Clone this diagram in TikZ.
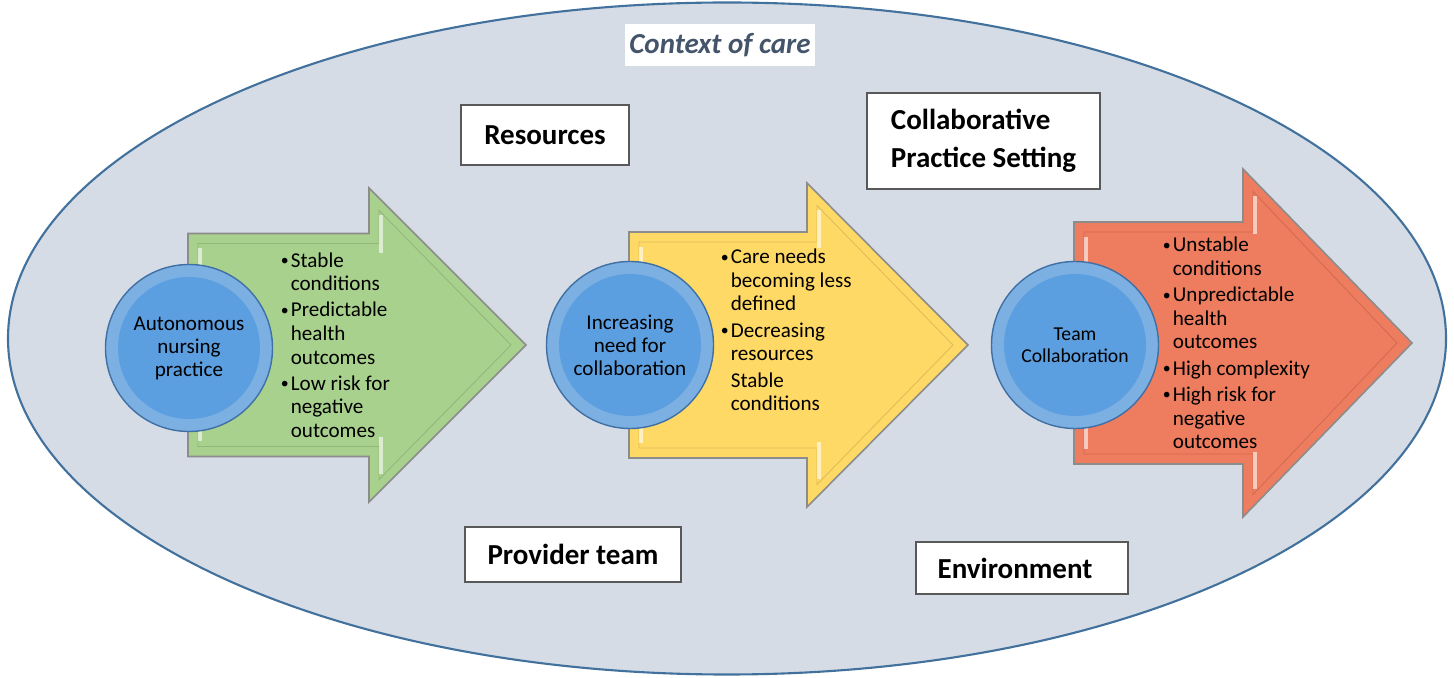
\documentclass[tikz,border=0pt]{standalone}
\usepackage{fontspec}
\setmainfont{Carlito}
\usepackage{tikz}
\usetikzlibrary{shapes.geometric}

\definecolor{ctxfill}{RGB}{214,220,229}
\definecolor{ctxedge}{RGB}{65,113,156}
\definecolor{ctxtext}{RGB}{68,84,106}
\definecolor{arrgreen}{RGB}{169,209,142}
\definecolor{arryellow}{RGB}{255,217,102}
\definecolor{arrred}{RGB}{238,124,94}
\definecolor{hubring}{RGB}{125,176,226}
\definecolor{hubcore}{RGB}{92,159,224}
\definecolor{hubedge}{RGB}{63,112,165}

\tikzstyle{arrowbody} = [draw=black!45, line width=0.9pt, line join=miter]
\tikzstyle{glint} = [white, line width=2pt, opacity=0.6]
\tikzstyle{hub} = [circle, minimum size=3.34cm, inner sep=0pt, fill=hubring, draw=hubedge, line width=0.8pt, align=center, font=\fontsize{12}{13.1}\selectfont, path picture={\fill[hubcore] (path picture bounding box.center) circle (1.42cm);}]
\tikzstyle{bullets} = [anchor=west, inner sep=0pt, align=left, font=\fontsize{12}{13.4}\selectfont]
\tikzstyle{tagbox} = [draw=black!65, fill=white, line width=1pt, inner sep=2pt, font=\fontsize{16.5}{21.6}\selectfont\bfseries]
\tikzstyle{ctxtitle} = [fill=white, inner sep=0pt, minimum width=3.8cm, minimum height=0.84cm, text=ctxtext, font=\fontsize{16.5}{20}\selectfont\bfseries\itshape]

\newcommand{\itembul}{\makebox[5.7pt][l]{\raisebox{0.9pt}{\fontsize{9}{9}\selectfont\textbullet}}}
\newcommand{\itemcont}{\hspace*{5.7pt}}

\begin{document}
\begin{tikzpicture}
\useasboundingbox (0,0) rectangle (29.08,13.54);

% context of care
\draw[fill=ctxfill, draw=ctxedge, line width=1.2pt] (14.54,6.77) ellipse (14.38cm and 6.72cm);
\node[ctxtitle] (ctx) at (14.40,12.64) {Context of care};

% the three arrows
\foreach \xl/\xh/\xt/\yc/\bh/\hh/\col in {3.76/7.38/10.52/6.64/2.23/3.14/arrgreen, 12.58/16.14/19.36/6.64/2.26/3.24/arryellow, 21.48/24.86/28.24/6.68/2.42/3.48/arrred}
{
\draw[arrowbody, fill=\col] (\xl,\yc+\bh) -- (\xh,\yc+\bh) -- (\xh,\yc+\hh) -- (\xt,\yc) -- (\xh,\yc-\hh) -- (\xh,\yc-\bh) -- (\xl,\yc-\bh) -- cycle;
\draw[draw=\col!75!black, line width=0.5pt, opacity=0.5] (\xl+0.2,\yc+\bh-0.2) -- (\xh+0.2,\yc+\bh-0.2) -- (\xh+0.2,\yc+\hh-0.45) -- (\xt-0.3,\yc) -- (\xh+0.2,\yc-\hh+0.45) -- (\xh+0.2,\yc-\bh+0.2) -- (\xl+0.2,\yc-\bh+0.2) -- cycle;
\draw[glint] (\xl+0.24,\yc+\bh-0.3) -- ++(0,-0.55);
\draw[glint] (\xl+0.24,\yc-\bh+0.3) -- ++(0,0.55);
\draw[glint] (\xh+0.24,\yc+\hh-0.55) -- ++(0,-0.75);
\draw[glint] (\xh+0.24,\yc-\hh+0.55) -- ++(0,0.75);
}

% circles
\node[hub] (auto) at (3.78,6.58) {Autonomous\\nursing\\practice};
\node[hub] (incr) at (12.60,6.64) {Increasing\\need for\\collaboration};
\node[hub, font=\fontsize{11.2}{12.5}\selectfont] (team) at (21.50,6.64) {Team\\Collaboration};

% bullet lists
\node[bullets] (stable) at (5.61,6.64) {\itembul Stable\\ \itemcont conditions\\[1.6pt] \itembul Predictable\\ \itemcont health\\ \itemcont outcomes\\[1.6pt] \itembul Low risk for\\ \itemcont negative\\ \itemcont outcomes};
\node[bullets] (needs) at (14.41,6.94) {\itembul Care needs\\ \itemcont becoming less\\ \itemcont defined\\[1.6pt] \itembul Decreasing\\ \itemcont resources\\[1.6pt] \itemcont Stable\\ \itemcont conditions};
\node[bullets] (unstable) at (23.25,6.68) {\itembul Unstable\\ \itemcont conditions\\[1.6pt] \itembul Unpredictable\\ \itemcont health\\ \itemcont outcomes\\[1.6pt] \itembul High complexity\\[1.6pt] \itembul High risk for\\ \itemcont negative\\ \itemcont outcomes};

% labels
\node[tagbox, minimum width=3.36cm, minimum height=1.2cm] (res) at (10.90,10.84) {Resources};
\node[tagbox, align=left, minimum width=4.66cm, minimum height=1.92cm] (setting) at (19.67,10.72) {Collaborative\\Practice Setting};
\node[tagbox, minimum width=4.32cm, minimum height=1.10cm] (prov) at (11.46,2.45) {Provider team};
\node[tagbox, minimum width=4.24cm, minimum height=1.04cm] (env) at (20.44,2.18) {Environment\kern8pt\null};
\end{tikzpicture}
\end{document}
